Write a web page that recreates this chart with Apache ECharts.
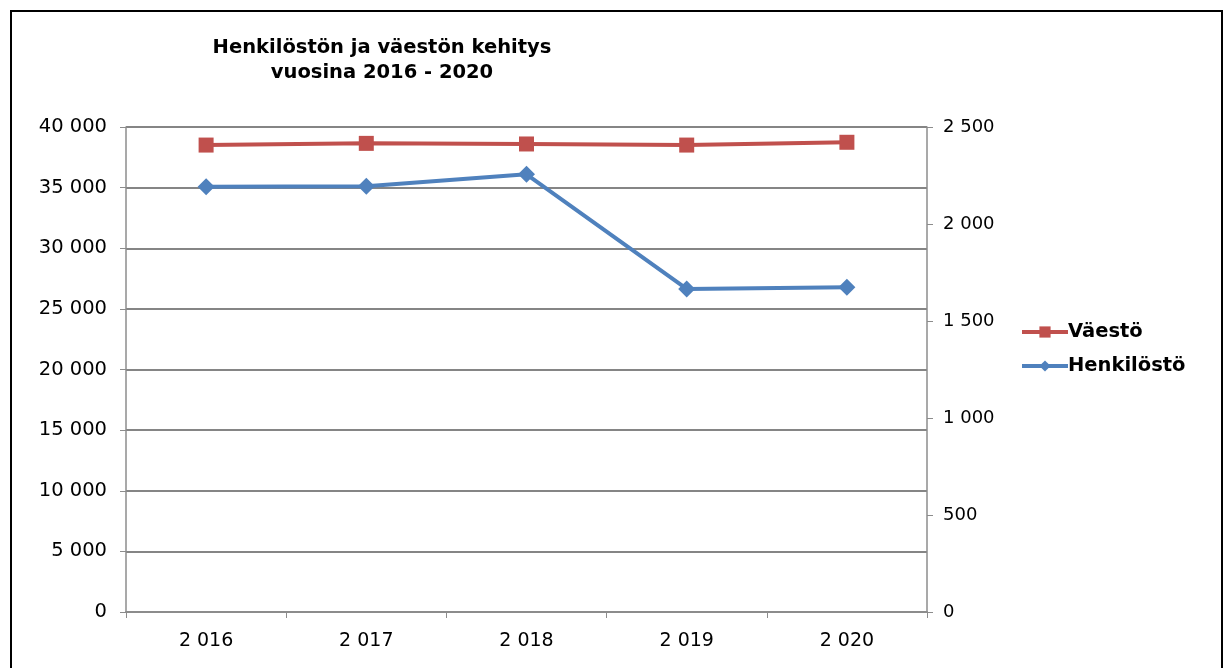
<!DOCTYPE html>
<html>
<head>
<meta charset="utf-8">
<script src="https://cdn.jsdelivr.net/npm/echarts@6/dist/echarts.min.js"></script>
<style>
  html, body { margin: 0; padding: 0; background: #fff; }
  #chart { width: 1229px; height: 668px; }
</style>
</head>
<body>
<div id="chart"></div>
<script>
var years = ['2 016', '2 017', '2 018', '2 019', '2 020'];
var vaesto = [38510, 38650, 38600, 38510, 38740];
var henkilosto = [2192, 2194, 2256, 1665, 1674];

function spaced(v) {
  return String(v).replace(/\B(?=(\d{3})+(?!\d))/g, ' ');
}

var myChart = echarts.init(document.getElementById('chart'));

var option = {
  animation: false,
  backgroundColor: '#fff',
  title: {
    text: 'Henkilöstön ja väestön kehitys\nvuosina 2016 - 2020',
    left: 377,
    top: 30,
    textAlign: 'center',
    textStyle: {
      fontFamily: 'DejaVu Sans',
      fontWeight: 'bold',
      fontSize: 19.5,
      lineHeight: 25,
      color: '#000'
    }
  },
  legend: {
    orient: 'vertical',
    left: 1015,
    top: 317,
    itemWidth: 46,
    itemHeight: 14,
    itemGap: 14,
    data: ['Väestö', 'Henkilöstö'],
    lineStyle: { width: 4 },
    textStyle: {
      fontFamily: 'DejaVu Sans',
      fontWeight: 'bold',
      fontSize: 19.5,
      color: '#000',
      padding: [0, 0, 0, -5]
    }
  },
  graphic: [{
    type: 'rect',
    shape: { x: 11, y: 11, width: 1211, height: 680 },
    style: { fill: 'none', stroke: '#000', lineWidth: 2 },
    silent: true
  }],
  grid: {
    left: 126,
    right: 302,
    top: 127,
    bottom: 56
  },
  xAxis: {
    type: 'category',
    data: years,
    boundaryGap: true,
    axisLine: { lineStyle: { color: '#8c8c8c', width: 2 } },
    axisTick: { show: true, length: 6, lineStyle: { color: '#8c8c8c', width: 1 } },
    axisLabel: {
      margin: 20,
      fontFamily: 'DejaVu Sans',
      fontSize: 19,
      color: '#000'
    },
    splitLine: { show: false }
  },
  yAxis: [{
    type: 'value',
    min: 0,
    max: 40000,
    interval: 5000,
    position: 'left',
    axisLine: { show: true, lineStyle: { color: '#8c8c8c', width: 1.5 } },
    axisTick: { show: true, length: 6, lineStyle: { color: '#8c8c8c' } },
    axisLabel: {
      margin: 19,
      fontFamily: 'DejaVu Sans',
      fontSize: 19.5,
      color: '#000',
      formatter: spaced
    },
    splitLine: { show: true, lineStyle: { color: '#858585', width: 2 } }
  }, {
    type: 'value',
    min: 0,
    max: 2500,
    interval: 500,
    position: 'right',
    axisLine: { show: true, lineStyle: { color: '#8c8c8c', width: 1.5 } },
    axisTick: { show: true, length: 6, lineStyle: { color: '#8c8c8c' } },
    axisLabel: {
      margin: 16,
      fontFamily: 'DejaVu Sans',
      fontSize: 18,
      color: '#000',
      formatter: spaced
    },
    splitLine: { show: false }
  }],
  series: [{
    name: 'Väestö',
    type: 'line',
    yAxisIndex: 0,
    data: vaesto,
    symbol: 'rect',
    symbolSize: 15,
    lineStyle: { color: '#c0504d', width: 4 },
    itemStyle: { color: '#c0504d' }
  }, {
    name: 'Henkilöstö',
    type: 'line',
    yAxisIndex: 1,
    data: henkilosto,
    symbol: 'diamond',
    symbolSize: 17,
    lineStyle: { color: '#4f81bd', width: 4 },
    itemStyle: { color: '#4f81bd' }
  }]
};

myChart.setOption(option, true);
</script>
</body>
</html>
